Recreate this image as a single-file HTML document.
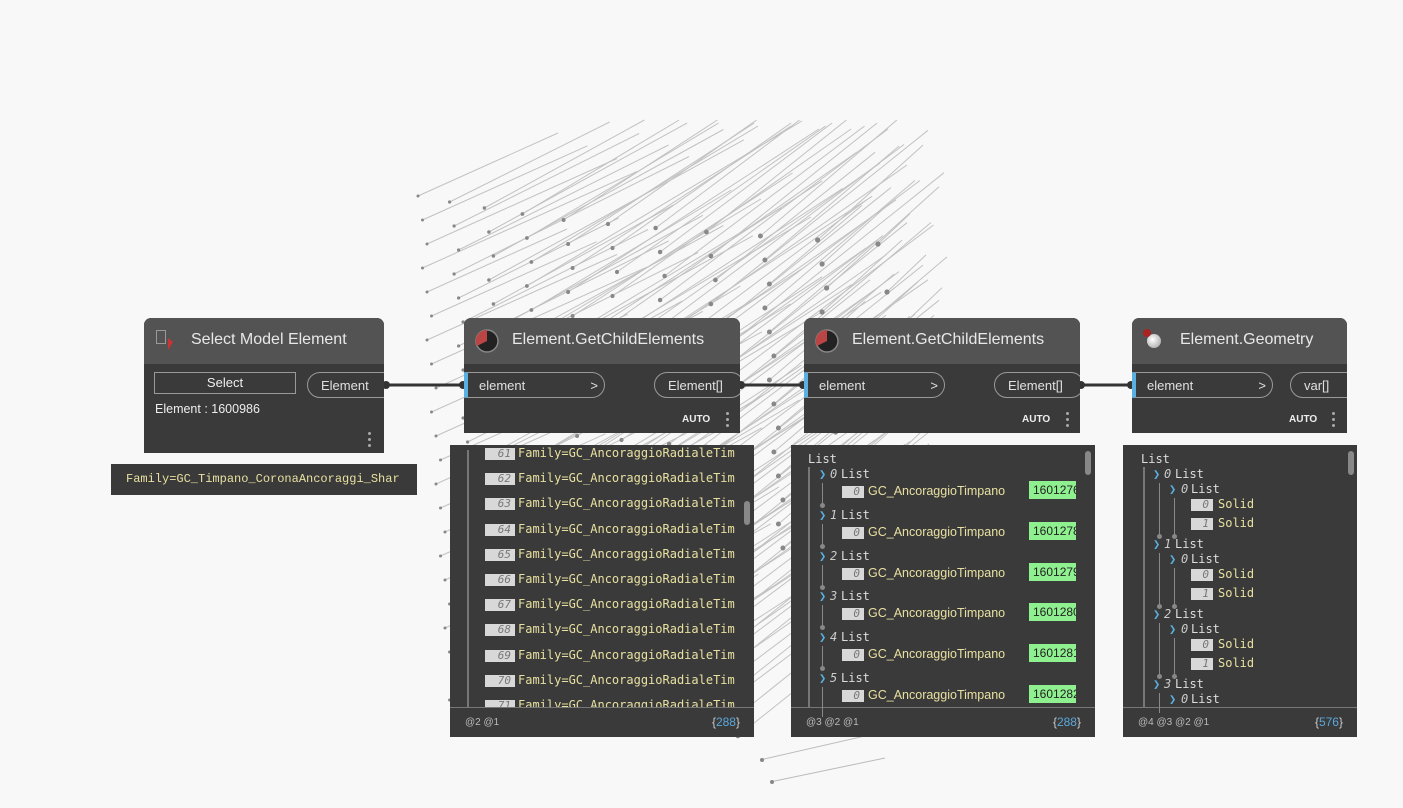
<!DOCTYPE html>
<html><head><meta charset="utf-8">
<style>
body{margin:0;width:1403px;height:808px;background:#f8f8f8;overflow:hidden;position:relative;font-family:"Liberation Sans",sans-serif;}
.a{position:absolute;}
.node{position:absolute;background:#3a3a3a;border-radius:7px 7px 0 0;overflow:hidden;}
.hdr{position:absolute;left:0;top:0;right:0;height:46px;background:#535353;border-radius:7px 7px 0 0;}
.ttl{position:absolute;top:13px;color:#e8e8e8;font-size:16px;}
.port{position:absolute;height:26px;border:1px solid #9a9a9a;border-radius:13px;color:#e0e0e0;font-size:13px;line-height:26px;box-sizing:border-box;}
.auto{position:absolute;color:#eee;font-size:10px;font-weight:bold;}
.dots{position:absolute;width:3px;}
.dots i{display:block;width:3px;height:3px;background:#aaa;border-radius:50%;margin-bottom:3px;}
.pv{position:absolute;background:#3a3a3a;}
.ft{position:absolute;left:0;right:0;bottom:0;height:29px;border-top:1px solid #777;color:#bbb;font-size:10px;background:#3a3a3a;}
.mono{font-family:"Liberation Mono","DejaVu Sans Mono",monospace;}
.idx{position:absolute;background:#d8d8d8;color:#777;font-style:italic;font-size:11px;text-align:right;height:12px;line-height:12px;padding-right:4px;box-sizing:border-box;font-family:"DejaVu Sans Mono",monospace;}
.tx{position:absolute;font-size:12px;font-family:"DejaVu Sans Mono",monospace;white-space:nowrap;}
.sb{position:absolute;width:6px;height:24px;background:#888;border-radius:3px;}
</style></head><body>
<svg id="bg" class="a" style="left:0;top:0" width="1403" height="808"></svg>

<svg class="a" style="left:0;top:0" width="1403" height="808">
<g stroke="#333" stroke-width="3"><line x1="385" y1="385" x2="464" y2="385"/><line x1="740" y1="385" x2="804" y2="385"/><line x1="1080" y1="385" x2="1132" y2="385"/></g>
<g fill="#333"><circle cx="386" cy="385" r="4"/><circle cx="463" cy="385" r="4"/><circle cx="741" cy="385" r="4"/><circle cx="803" cy="385" r="4"/><circle cx="1081" cy="385" r="4"/><circle cx="1131" cy="385" r="4"/></g>
</svg>

<div class="node" style="left:144px;top:318px;width:240px;height:135px;">
 <div class="hdr"></div>
 <div class="a" style="left:12px;top:12px;width:8px;height:12px;border:1px solid #999;"></div>
 <div class="a" style="left:24px;top:20px;width:0;height:0;border-left:5px solid #c33;border-top:4px solid transparent;border-bottom:8px solid transparent;"></div>
 <div class="ttl" style="left:47px;">Select Model Element</div>
 <div class="a" style="left:10px;top:54px;width:142px;height:22px;border:1px solid #999;box-sizing:border-box;color:#eee;font-size:13px;text-align:center;line-height:20px;">Select</div>
 <div class="port" style="left:163px;top:54px;width:90px;padding-left:13px;">Element</div>
 <div class="a" style="left:11px;top:84px;color:#eee;font-size:12.5px;">Element : 1600986</div>
 <div class="dots" style="left:224px;top:114px"><i></i><i></i><i></i></div>
</div>
<div class="a mono" style="left:111px;top:464px;width:306px;height:31px;background:#3a3a3a;color:#e8e0a0;font-size:12px;line-height:31px;padding-left:15px;box-sizing:border-box;">Family=GC_Timpano_CoronaAncoraggi_Shar</div>

<div class="node" style="left:464px;top:318px;width:276px;height:115px;">
 <div class="hdr"></div>
 <svg class="a" style="left:10px;top:10px" width="26" height="26"><circle cx="13" cy="13" r="11" fill="#222" stroke="#888" stroke-width="1.5"/><path d="M13 13 L13 2 A11 11 0 0 0 3 18 Z" fill="#b44"/></svg>
 <div class="ttl" style="left:48px;">Element.GetChildElements</div>
 <div class="port" style="left:0;top:54px;width:141px;padding-left:11px;border-left:4px solid #5ab0e0;border-radius:0 13px 13px 0;">element<span style="position:absolute;right:6px">&gt;</span></div>
 <div class="port" style="left:190px;top:54px;width:90px;padding-left:13px;">Element[]</div>
 <div class="auto" style="left:218px;top:96px">AUTO</div>
 <div class="dots" style="left:262px;top:94px"><i></i><i></i><i></i></div>
</div>
<div class="node" style="left:804px;top:318px;width:276px;height:115px;">
 <div class="hdr"></div>
 <svg class="a" style="left:10px;top:10px" width="26" height="26"><circle cx="13" cy="13" r="11" fill="#222" stroke="#888" stroke-width="1.5"/><path d="M13 13 L13 2 A11 11 0 0 0 3 18 Z" fill="#b44"/></svg>
 <div class="ttl" style="left:48px;">Element.GetChildElements</div>
 <div class="port" style="left:0;top:54px;width:141px;padding-left:11px;border-left:4px solid #5ab0e0;border-radius:0 13px 13px 0;">element<span style="position:absolute;right:6px">&gt;</span></div>
 <div class="port" style="left:190px;top:54px;width:90px;padding-left:13px;">Element[]</div>
 <div class="auto" style="left:218px;top:96px">AUTO</div>
 <div class="dots" style="left:262px;top:94px"><i></i><i></i><i></i></div>
</div>
<div class="node" style="left:1132px;top:318px;width:215px;height:115px;">
 <div class="hdr"></div>
 <div class="a" style="left:15px;top:16px;width:14px;height:14px;border-radius:50%;background:radial-gradient(circle at 40% 40%,#fff,#999);"></div>
 <div class="a" style="left:11px;top:11px;width:8px;height:8px;border-radius:50%;background:#a22;"></div>
 <div class="ttl" style="left:48px;">Element.Geometry</div>
 <div class="port" style="left:0;top:54px;width:141px;padding-left:11px;border-left:4px solid #5ab0e0;border-radius:0 13px 13px 0;">element<span style="position:absolute;right:6px">&gt;</span></div>
 <div class="port" style="left:158px;top:54px;width:70px;padding-left:13px;">var[]</div>
 <div class="auto" style="left:157px;top:96px">AUTO</div>
 <div class="dots" style="left:200px;top:94px"><i></i><i></i><i></i></div>
</div>

<div class="pv" id="p2" style="left:450px;top:445px;width:304px;height:292px;overflow:hidden;">
 <div class="a" style="left:17px;top:5px;width:2px;height:258px;background:#777"></div>
 <div class="sb" style="left:294px;top:56px"></div>
 <div class="ft"><span class="a" style="left:15px;top:9px">@2 @1</span><span class="a" style="right:14px;top:7px;font-size:12px;color:#ccc">{<span style="color:#5aa8dc">288</span>}</span></div>
</div>
<div class="pv" id="p3" style="left:791px;top:445px;width:304px;height:292px;overflow:hidden;">
 <div class="tx" style="left:17px;top:7px;color:#ddd">List</div>
 <div class="a" style="left:17px;top:22px;width:2px;height:243px;background:#777"></div>
 <div class="sb" style="left:294px;top:6px"></div>
 <div class="ft"><span class="a" style="left:15px;top:9px">@3 @2 @1</span><span class="a" style="right:14px;top:7px;font-size:12px;color:#ccc">{<span style="color:#5aa8dc">288</span>}</span></div>
</div>
<div class="pv" id="p4" style="left:1123px;top:445px;width:234px;height:292px;overflow:hidden;">
 <div class="tx" style="left:18px;top:7px;color:#ddd">List</div>
 <div class="a" style="left:20px;top:22px;width:2px;height:243px;background:#777"></div>
 <div class="sb" style="left:225px;top:6px"></div>
 <div class="ft"><span class="a" style="left:15px;top:9px">@4 @3 @2 @1</span><span class="a" style="right:14px;top:7px;font-size:12px;color:#ccc">{<span style="color:#5aa8dc">576</span>}</span></div>
</div>

<script>
(function(){
 var s='',svg=document.getElementById('bg');
 for(var i=0;i<12;i++){
  var cx = 418 + i*30 + i*i*1.6;
  var slope=0.45+i*0.05;
  for(var j=0;j<22;j++){
   var sx=cx + (j%3)*3 + j*1.5;
   var sy=196+j*24+i*6-(i>4?(i-4)*2:0);
   if(sy>780) continue;
   if(i>7 && sy>560) continue;
   var len=140+i*20 + (j%4)*25;
   var tx=sx+len, ty=sy-len*slope;
   if(ty<120){ty=120+(j%5)*3; tx=sx+(sy-ty)/slope;}
   var lim=950-((j*37+i*13)%90);
   if(tx>lim){tx=lim; ty=sy-(tx-sx)*slope;}
   if(tx<=sx+20) continue;
   s+='<line x1="'+sx.toFixed(1)+'" y1="'+sy+'" x2="'+tx.toFixed(1)+'" y2="'+ty.toFixed(1)+'" stroke="#c2c2c2" stroke-width="1"/>';
   s+='<circle cx="'+sx.toFixed(1)+'" cy="'+sy+'" r="'+Math.min(1.5+i*0.12,2.6)+'" fill="#888"/>';
  }
 }
 s+='<line x1="770" y1="782" x2="885" y2="758" stroke="#bbb"/><circle cx="772" cy="782" r="2" fill="#888"/>';
 s+='<line x1="760" y1="760" x2="900" y2="728" stroke="#bbb"/><circle cx="762" cy="760" r="2" fill="#888"/>';
 svg.innerHTML=s;
 var p2=document.getElementById('p2'),h='';
 for(var k=0;k<11;k++){
  var y=2+k*25.2;
  h+='<div class="idx" style="left:35px;top:'+(y+1)+'px;width:30px">'+(61+k)+'</div><div class="tx" style="left:68px;top:'+(y-1)+'px;color:#e8e0a0">Family=GC_AncoraggioRadialeTim</div>';
 }
 p2.insertAdjacentHTML('afterbegin',h);
 var p3=document.getElementById('p3');h='';
 var ids=['1601276','1601278','1601279','1601280','1601281','1601282'];
 for(var k=0;k<6;k++){
  var y=22+k*40.8;
  h+='<div class="tx" style="left:28px;top:'+y+'px;color:#5ab0e0;font-weight:bold">&#x276F;</div><div class="tx" style="left:39px;top:'+y+'px;color:#ccc;font-style:italic">'+k+'</div><div class="tx" style="left:50px;top:'+y+'px;color:#ddd">List</div>';
  h+='<div class="a" style="left:31px;top:'+(y+16)+'px;width:1px;height:'+(k<5?20:30)+'px;background:#888"></div>';
  if(k<5)h+='<div class="a" style="left:29px;top:'+(y+36)+'px;width:5px;height:5px;border-radius:50%;background:#888"></div>';
  h+='<div class="idx" style="left:51px;top:'+(y+19)+'px;width:22px">0</div><div class="tx" style="left:77px;top:'+(y+17)+'px;color:#e8e0a0;font-family:\'Liberation Sans\',sans-serif;font-size:12.5px">GC_AncoraggioTimpano</div>';
  h+='<div class="a" style="left:238px;top:'+(y+14)+'px;width:47px;height:18px;background:#8ef08e;color:#222;font-size:12px;line-height:18px;overflow:hidden;padding-left:4px;box-sizing:border-box">'+ids[k]+'</div>';
 }
 p3.insertAdjacentHTML('beforeend',h);
 var p4=document.getElementById('p4');h='';
 for(var k=0;k<4;k++){
  var y=22+k*70;
  h+='<div class="tx" style="left:30px;top:'+y+'px;color:#5ab0e0;font-weight:bold">&#x276F;</div><div class="tx" style="left:41px;top:'+y+'px;color:#ccc;font-style:italic">'+k+'</div><div class="tx" style="left:52px;top:'+y+'px;color:#ddd">List</div>';
  h+='<div class="tx" style="left:46px;top:'+(y+15)+'px;color:#5ab0e0;font-weight:bold">&#x276F;</div><div class="tx" style="left:58px;top:'+(y+15)+'px;color:#ccc;font-style:italic">0</div><div class="tx" style="left:68px;top:'+(y+15)+'px;color:#ddd">List</div>';
  if(k<3){
   h+='<div class="a" style="left:36px;top:'+(y+16)+'px;width:1px;height:52px;background:#888"></div><div class="a" style="left:34px;top:'+(y+67)+'px;width:5px;height:5px;border-radius:50%;background:#888"></div>';
   h+='<div class="a" style="left:51px;top:'+(y+31)+'px;width:1px;height:37px;background:#888"></div><div class="a" style="left:49px;top:'+(y+67)+'px;width:5px;height:5px;border-radius:50%;background:#888"></div>';
   h+='<div class="idx" style="left:68px;top:'+(y+32)+'px;width:22px">0</div><div class="tx" style="left:95px;top:'+(y+30)+'px;color:#e8e0a0">Solid</div>';
   h+='<div class="idx" style="left:68px;top:'+(y+51)+'px;width:22px">1</div><div class="tx" style="left:95px;top:'+(y+49)+'px;color:#e8e0a0">Solid</div>';
  } else {
   h+='<div class="a" style="left:36px;top:'+(y+16)+'px;width:1px;height:20px;background:#888"></div>';
  }
 }
 p4.insertAdjacentHTML('beforeend',h);
})();
</script>
</body></html>
